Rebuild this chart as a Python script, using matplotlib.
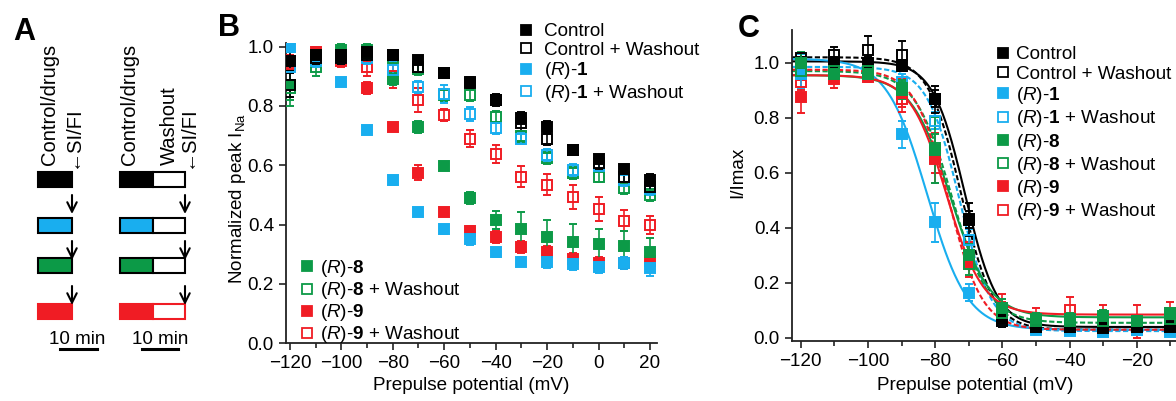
import matplotlib
matplotlib.use('Agg')
import matplotlib.pyplot as plt
from matplotlib.lines import Line2D
from matplotlib.patches import Rectangle
import numpy as np

plt.rcParams['font.family'] = ['Liberation Sans', 'DejaVu Sans']
plt.rcParams['mathtext.fontset'] = 'custom'
plt.rcParams['mathtext.rm'] = 'Liberation Sans'
plt.rcParams['mathtext.it'] = 'Liberation Sans:italic'
plt.rcParams['mathtext.bf'] = 'Liberation Sans:bold'

FS = 13.6

# colours
BLACK = '#000000'
BLUE = '#19aeef'
GREEN = '#0c9a47'
RED = '#f01c24'

# ---------------- panel B data (normalized peak INa) ----------------
volt_b = [-120, -110, -100, -90, -80, -70, -60, -50, -40, -30, -20, -10, 0, 10, 20]

ctrl_b = [0.95, 0.97, 0.97, 0.98, 0.97, 0.955, 0.91, 0.88, 0.82, 0.76, 0.73, 0.652, 0.621, 0.587, 0.549]
ctrl_w_b = [0.87, 0.96, 0.96, 0.97, 0.97, 0.93, 0.91, 0.876, 0.82, 0.742, 0.688, 0.652, 0.607, 0.562, 0.528]
r1_b = [1.0, 0.96, 0.88, 0.72, 0.55, 0.444, 0.384, 0.35, 0.306, 0.275, 0.275, 0.266, 0.258, 0.27, 0.253]
r1_w_b = [0.93, 0.95, 0.96, 0.96, 0.92, 0.863, 0.84, 0.773, 0.725, 0.69, 0.635, 0.584, 0.596, 0.55, 0.52]
r8_b = [0.87, 0.97, 0.99, 0.99, 0.89, 0.73, 0.596, 0.49, 0.416, 0.384, 0.357, 0.343, 0.335, 0.328, 0.306]
r8_w_b = [0.86, 0.93, 0.97, 0.98, 0.96, 0.925, 0.837, 0.837, 0.764, 0.697, 0.624, 0.573, 0.562, 0.522, 0.50]
r9_b = [0.95, 0.98, 0.97, 0.86, 0.73, 0.575, 0.444, 0.38, 0.357, 0.324, 0.309, 0.283, 0.27, 0.27, 0.279]
r9_w_b = [0.94, 0.96, 0.95, 0.93, 0.90, 0.82, 0.77, 0.69, 0.638, 0.562, 0.534, 0.494, 0.453, 0.413, 0.40]

ctrl_b_err = [0.03, 0.02, 0.02, 0.01, 0.01, 0.01, 0.01, 0.01, 0.015, 0.02, 0.02, 0.015, 0.015, 0.015, 0.02]
ctrl_w_b_err = [0.04, 0.02, 0.02, 0.01, 0.01, 0.015, 0.015, 0.02, 0.02, 0.025, 0.02, 0.015, 0.02, 0.02, 0.02]
r1_b_err = [0.01, 0.01, 0.01, 0.01, 0.015, 0.01, 0.015, 0.02, 0.015, 0.015, 0.02, 0.02, 0.02, 0.02, 0.025]
r1_w_b_err = [0.02, 0.02, 0.02, 0.02, 0.03, 0.02, 0.03, 0.025, 0.02, 0.02, 0.02, 0.02, 0.02, 0.02, 0.02]
r8_b_err = [0.05, 0.03, 0.02, 0.02, 0.02, 0.02, 0.01, 0.02, 0.03, 0.06, 0.06, 0.06, 0.05, 0.05, 0.05]
r8_w_b_err = [0.06, 0.03, 0.02, 0.02, 0.02, 0.02, 0.02, 0.02, 0.02, 0.02, 0.02, 0.02, 0.02, 0.02, 0.02]
r9_b_err = [0.02, 0.01, 0.02, 0.02, 0.01, 0.025, 0.01, 0.015, 0.02, 0.02, 0.02, 0.02, 0.02, 0.02, 0.02]
r9_w_b_err = [0.02, 0.02, 0.02, 0.03, 0.04, 0.04, 0.02, 0.03, 0.03, 0.035, 0.035, 0.04, 0.04, 0.035, 0.03]

# ---------------- panel C data (I/Imax, steady-state inactivation) ----------------
volt_c = [-120, -110, -100, -90, -80, -70, -60, -50, -40, -30, -20, -10]

ctrl_c = [1.0, 1.0, 1.0, 0.99, 0.87, 0.43, 0.07, 0.04, 0.04, 0.04, 0.04, 0.045]
ctrl_w_c = [1.016, 1.028, 1.046, 1.028, 0.867, 0.431, 0.06, 0.04, 0.04, 0.035, 0.04, 0.04]
r1_c = [0.96, 0.98, 0.96, 0.74, 0.42, 0.165, 0.06, 0.03, 0.03, 0.02, 0.03, 0.03]
r1_w_c = [0.99, 0.98, 0.97, 0.93, 0.79, 0.356, 0.06, 0.035, 0.025, 0.02, 0.03, 0.02]
r8_c = [1.0, 0.96, 0.96, 0.907, 0.683, 0.30, 0.11, 0.07, 0.07, 0.08, 0.06, 0.09]
r8_w_c = [0.97, 0.97, 0.97, 0.90, 0.69, 0.27, 0.09, 0.06, 0.06, 0.06, 0.06, 0.07]
r9_c = [0.876, 0.94, 0.95, 0.89, 0.653, 0.27, 0.10, 0.05, 0.04, 0.06, 0.05, 0.09]
r9_w_c = [0.93, 0.96, 0.96, 0.87, 0.65, 0.30, 0.11, 0.07, 0.10, 0.07, 0.06, 0.09]

ctrl_c_err = [0.02, 0.02, 0.02, 0.02, 0.03, 0.03, 0.02, 0.01, 0.01, 0.01, 0.01, 0.01]
ctrl_w_c_err = [0.02, 0.03, 0.05, 0.05, 0.05, 0.06, 0.02, 0.01, 0.01, 0.01, 0.01, 0.01]
r1_c_err = [0.05, 0.03, 0.02, 0.05, 0.07, 0.03, 0.02, 0.01, 0.01, 0.01, 0.01, 0.01]
r1_w_c_err = [0.04, 0.02, 0.02, 0.03, 0.03, 0.04, 0.02, 0.01, 0.01, 0.01, 0.01, 0.01]
r8_c_err = [0.04, 0.03, 0.02, 0.03, 0.12, 0.04, 0.03, 0.02, 0.02, 0.02, 0.02, 0.02]
r8_w_c_err = [0.03, 0.02, 0.02, 0.03, 0.05, 0.04, 0.03, 0.02, 0.02, 0.02, 0.02, 0.02]
r9_c_err = [0.06, 0.03, 0.02, 0.05, 0.09, 0.05, 0.03, 0.02, 0.02, 0.02, 0.02, 0.02]
r9_w_c_err = [0.03, 0.03, 0.02, 0.05, 0.05, 0.05, 0.05, 0.04, 0.05, 0.05, 0.06, 0.04]

# Boltzmann fit parameters: top, bottom, V1/2, slope k
fit_top = [1.005, 1.02, 1.015, 0.985, 0.955, 0.97, 0.955, 0.975]
fit_bottom = [0.04, 0.03, 0.03, 0.025, 0.075, 0.055, 0.085, 0.03]
fit_vhalf = [-71.1, -72.3, -82.4, -72.8, -75.5, -75.0, -76.6, -76.0]
fit_k = [4.75, 4.8, 6.0, 4.8, 5.8, 5.5, 5.4, 5.0]

labels = ['Control', 'Control + Washout',
          r'($\mathit{R}$)-$\mathbf{1}$', r'($\mathit{R}$)-$\mathbf{1}$ + Washout',
          r'($\mathit{R}$)-$\mathbf{8}$', r'($\mathit{R}$)-$\mathbf{8}$ + Washout',
          r'($\mathit{R}$)-$\mathbf{9}$', r'($\mathit{R}$)-$\mathbf{9}$ + Washout']
colors = [BLACK, BLACK, BLUE, BLUE, GREEN, GREEN, RED, RED]
filled = [True, False, True, False, True, False, True, False]

vals_b = [ctrl_b, ctrl_w_b, r1_b, r1_w_b, r8_b, r8_w_b, r9_b, r9_w_b]
errs_b = [ctrl_b_err, ctrl_w_b_err, r1_b_err, r1_w_b_err, r8_b_err, r8_w_b_err, r9_b_err, r9_w_b_err]
vals_c = [ctrl_c, ctrl_w_c, r1_c, r1_w_c, r8_c, r8_w_c, r9_c, r9_w_c]
errs_c = [ctrl_c_err, ctrl_w_c_err, r1_c_err, r1_w_c_err, r8_c_err, r8_w_c_err, r9_c_err, r9_w_c_err]

W, H = 1176, 401
fig = plt.figure(figsize=(W / 100, H / 100), dpi=100)


def px(x0, y0, x1, y1):
    # pixel box (top-left origin) -> figure fraction rect
    return [x0 / W, 1 - y1 / H, (x1 - x0) / W, (y1 - y0) / H]


def style_axis(ax):
    for s in ['top', 'right']:
        ax.spines[s].set_visible(False)
    for s in ['left', 'bottom']:
        ax.spines[s].set_linewidth(1.3)
        ax.spines[s].set_color('#222222')
    ax.tick_params(which='major', direction='out', length=5, width=1.2, labelsize=FS, color='#222222')
    ax.tick_params(which='minor', direction='out', length=3.5, width=1.2, color='#222222')


def draw_series(ax, x, vals, errs, order):
    for i in order:
        c = colors[i]
        ax.errorbar(x, vals[i], yerr=errs[i], fmt='s', ms=7.5,
                    mfc=c if filled[i] else 'none', mec=c, mew=1.4,
                    ecolor=c, elinewidth=1.2, capsize=3.2, capthick=1.2, zorder=3)


def handles(idx):
    return [Line2D([], [], ls='none', marker='s', ms=6.5,
                   mfc=colors[i] if filled[i] else 'none', mec=colors[i], mew=1.3) for i in idx]


def legend_at(idx, labs, x, y, pad, spacing=0.04):
    fig.legend(handles(idx), labs, loc='upper left', bbox_to_anchor=(x / W, 1 - y / H),
               frameon=False, fontsize=FS, handlelength=0.8, handletextpad=pad,
               labelspacing=spacing, borderpad=0, borderaxespad=0)


# ---------------- panel A: protocol schematic ----------------
axA = fig.add_axes(px(0, 0, 230, H))
axA.set_xlim(0, 230)
axA.set_ylim(H, 0)
axA.axis('off')

bar_cols = [BLACK, BLUE, GREEN, RED]
bar_tops = [172, 218, 258, 304]
for c, y in zip(bar_cols, bar_tops):
    edge = RED if c == RED else BLACK
    axA.add_patch(Rectangle((38, y), 34, 15, fc=c, ec=edge, lw=1.5))
    axA.add_patch(Rectangle((120, y), 33, 15, fc=c, ec=edge, lw=1.5))
    axA.add_patch(Rectangle((153, y), 32, 15, fc='white', ec=edge, lw=1.5))

for y in [195, 241, 286]:
    for x in [72, 185]:
        axA.annotate('', xy=(x, y + 19), xytext=(x, y),
                     arrowprops=dict(arrowstyle='->', lw=1.5, color='black', mutation_scale=17,
                                     shrinkA=0, shrinkB=0))

txt = dict(rotation=90, ha='center', va='bottom', fontsize=14.5)
axA.text(49, 165, 'Control/drugs', **txt)
axA.text(72, 168, '\u2190SI/FI', **txt)
axA.text(129, 165, 'Control/drugs', **txt)
axA.text(169, 165, 'Washout', **txt)
axA.text(187, 168, '\u2190SI/FI', **txt)

axA.text(77, 339, '10 min', ha='center', va='center', fontsize=FS)
axA.plot([60, 97], [349, 349], color='black', lw=2.2)
axA.text(160, 339, '10 min', ha='center', va='center', fontsize=FS)
axA.plot([142, 178], [349, 349], color='black', lw=2.2)

# ---------------- panel B ----------------
axB = fig.add_axes(px(285.7, 43, 657, 343.3))
style_axis(axB)
draw_series(axB, volt_b, vals_b, errs_b, [7, 6, 5, 4, 3, 2, 1, 0])
axB.set_xlim(-121.6, 22.7)
axB.set_ylim(0, 1.012)
axB.set_xticks(range(-120, 21, 20))
axB.set_xticks(range(-110, 21, 20), minor=True)
axB.set_yticks(np.arange(0, 1.01, 0.2))
axB.set_yticklabels(['%.1f' % v for v in np.arange(0, 1.01, 0.2)])

legend_at([0, 1, 2, 3], labels[0:4], 518, 23, 0.6, 0.08)
legend_at([4, 5, 6, 7], labels[4:8], 299, 258, 0.3, 0.06)

fig.text(471 / W, 1 - 385 / H, 'Prepulse potential (mV)', ha='center', va='center', fontsize=FS)
fig.text(237 / W, 1 - 198 / H, r'Normalized peak I$_{\mathrm{Na}}$', ha='center', va='center',
         rotation=90, fontsize=FS)

# ---------------- panel C ----------------
axC = fig.add_axes(px(791.7, 30, W, 341))
style_axis(axC)
vv = np.linspace(-125, -5, 400)
for i in range(8):
    curve = (fit_top[i] - fit_bottom[i]) / (1 + np.exp((vv - fit_vhalf[i]) / fit_k[i])) + fit_bottom[i]
    axC.plot(vv, curve, color=colors[i], lw=1.5, ls='-' if filled[i] else (0, (2.5, 1.2)), zorder=2)
draw_series(axC, volt_c, vals_c, errs_c, [7, 6, 3, 2, 1, 0, 5, 4])
axC.set_xlim(-122.7, -8.3)
axC.set_ylim(-0.011, 1.119)
axC.set_xticks(range(-120, -9, 20))
axC.set_xticks(range(-110, -9, 20), minor=True)
axC.set_yticks(np.arange(0, 1.01, 0.2))
axC.set_yticklabels(['%.1f' % v for v in np.arange(0, 1.01, 0.2)])

legend_at(range(8), labels, 995, 46, 0.3, 0.12)

fig.text(975 / W, 1 - 385 / H, 'Prepulse potential (mV)', ha='center', va='center', fontsize=FS)
fig.text(738 / W, 1 - 172 / H, 'I/Imax', ha='center', va='center', rotation=90, fontsize=FS)

# panel letters
fig.text(24 / W, 1 - 32 / H, 'A', ha='center', va='center', fontsize=22, fontweight='bold')
fig.text(229 / W, 1 - 28 / H, 'B', ha='center', va='center', fontsize=22, fontweight='bold')
fig.text(749 / W, 1 - 29 / H, 'C', ha='center', va='center', fontsize=22, fontweight='bold')

fig.savefig('out.png', dpi=100)
